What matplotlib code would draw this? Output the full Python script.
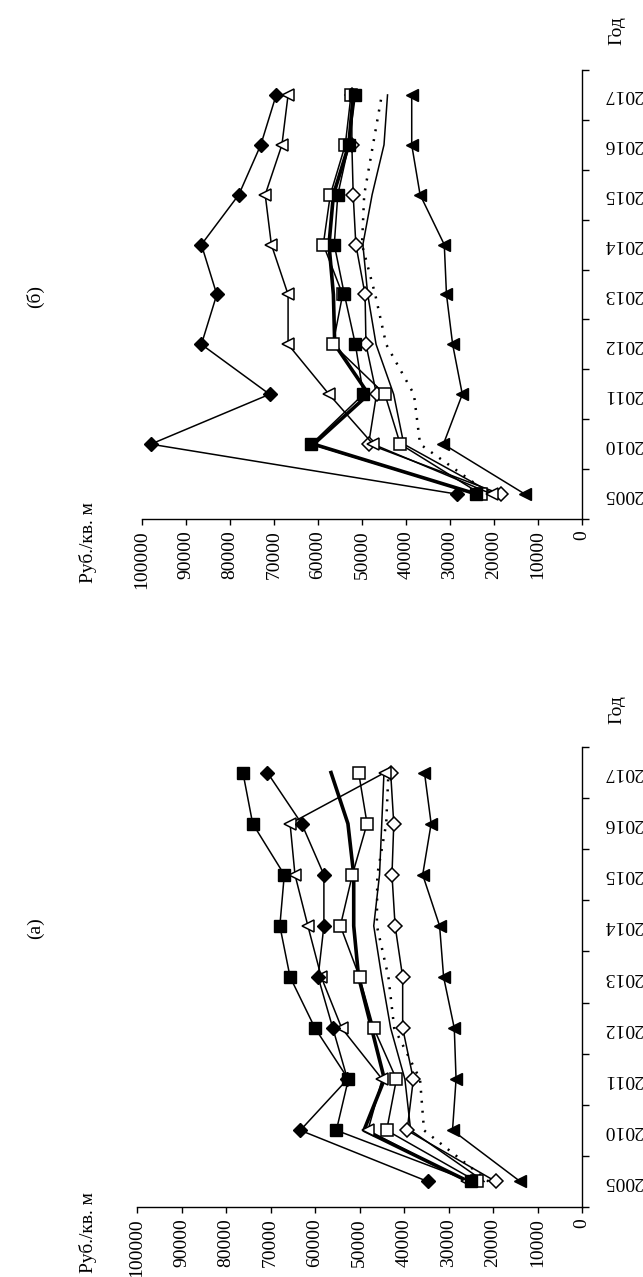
import numpy as np
import matplotlib
matplotlib.use('Agg')
import matplotlib.pyplot as plt

plt.rcParams['font.family'] = ['Liberation Serif', 'DejaVu Serif']

years = ['2005', '2010', '2011', '2012', '2013', '2014', '2015', '2016', '2017']

# панель (а)
a_fdiam = [34700, 63300, 52700, 56000, 59300, 58000, 58000, 63000, 70700]
a_fsq = [25000, 55200, 52500, 60000, 65600, 67900, 66900, 74000, 76200]
a_otri = [25900, 48100, 44900, 54000, 58600, 61600, 64500, 65600, 44300]
a_osq = [23700, 43900, 41700, 46800, 50000, 54300, 51600, 48300, 50200]
a_odiam = [19400, 39300, 37900, 40300, 40300, 42000, 42700, 42300, 43000]
a_ftri = [13900, 29100, 28300, 28700, 31100, 32000, 35800, 33900, 35400]
a_thick = [25500, 49000, 44400, 47300, 50200, 51300, 51300, 52600, 56400]
a_thin = [22000, 38500, 39800, 43000, 45000, 46800, 45500, 45000, 44500]
a_dot = [21000, 35500, 36400, 42200, 43500, 46100, 46000, 44000, 43500]

# панель (б)
b_fdiam = [28500, 98000, 71000, 86500, 83000, 86500, 78000, 73000, 69500]
b_otri = [20500, 47500, 57500, 66800, 66800, 70600, 72000, 68200, 66800]
b_ftri = [13000, 31500, 27200, 29400, 30800, 31300, 36800, 38700, 38700]
b_osq = [23000, 41300, 44800, 56600, 54400, 58800, 57200, 53800, 52500]
b_fsq = [24000, 61500, 49700, 51500, 54000, 56300, 55500, 53000, 51500]
b_odiam = [18500, 48500, 46700, 49100, 49300, 51400, 52000, 52300, 52300]
b_thick = [24000, 61000, 48500, 56200, 56500, 57500, 56500, 53000, 52000]
b_thin = [20000, 40500, 42800, 46800, 48700, 49800, 47700, 45000, 44200]
b_dot = [21000, 36800, 38200, 44500, 47000, 50000, 49500, 47500, 45500]

W, H = 643, 1277
fig = plt.figure(figsize=(W / 100, H / 100), dpi=100)
fig.patch.set_facecolor('white')


def panel(rect, fdiam, fsq, otri, osq, odiam, ftri, thick, thin, dot):
    ax = fig.add_axes(rect)
    pos = np.arange(len(years))
    lw = 1.1
    # линии без маркеров
    ax.plot(thin, pos, color='black', lw=lw)
    ax.plot(dot, pos, color='black', lw=1.8, ls=(0, (0.8, 3.2)))
    ax.plot(thick, pos, color='black', lw=2.6)
    # линии с маркерами
    ax.plot(odiam, pos, color='black', lw=lw, marker='D', ms=7,
            mfc='white', mec='black', mew=1.1)
    ax.plot(osq, pos, color='black', lw=lw, marker='s', ms=8,
            mfc='white', mec='black', mew=1.1)
    ax.plot(otri, pos, color='black', lw=lw, marker='<', ms=9,
            mfc='white', mec='black', mew=1.1)
    ax.plot(fsq, pos, color='black', lw=lw, marker='s', ms=8,
            mfc='black', mec='black')
    ax.plot(fdiam, pos, color='black', lw=lw, marker='D', ms=7,
            mfc='black', mec='black')
    ax.plot(ftri, pos, color='black', lw=lw, marker='<', ms=9,
            mfc='black', mec='black')

    ax.set_xlim(100000, 0)
    ax.set_ylim(-0.5, len(years) - 0.5)
    for s in ['top', 'left']:
        ax.spines[s].set_visible(False)
    ax.spines['bottom'].set_linewidth(1.0)
    ax.spines['right'].set_linewidth(1.0)

    ax.set_xticks(np.arange(0, 100001, 10000))
    ax.set_xticklabels([str(v) for v in range(0, 100001, 10000)],
                       rotation=90, fontsize=14)
    ax.tick_params(axis='x', direction='out', length=4, width=1, pad=4)

    ax.yaxis.tick_right()
    ax.set_yticks(pos)
    ax.set_yticklabels(years, rotation=180, fontsize=14, va='center')
    ax.set_yticks(np.arange(-0.5, len(years), 1), minor=True)
    ax.tick_params(axis='y', which='major', length=0, pad=16)
    ax.tick_params(axis='y', which='minor', direction='out', length=5, width=1)
    return ax


def fx(px):
    return px / W


def fy(py):
    return 1 - py / H


# (б) вверху, (а) внизу
panel([fx(142), fy(519), fx(440), (519 - 70) / H],
      b_fdiam, b_fsq, b_otri, b_osq, b_odiam, b_ftri, b_thick, b_thin, b_dot)
panel([fx(137), fy(1207), fx(445), (1207 - 747) / H],
      a_fdiam, a_fsq, a_otri, a_osq, a_odiam, a_ftri, a_thick, a_thin, a_dot)

fig.text(fx(35), fy(296), '(б)', rotation=90, fontsize=14, ha='center', va='center')
fig.text(fx(35), fy(928), '(а)', rotation=90, fontsize=14, ha='center', va='center')
fig.text(fx(617), fy(31), 'Год', rotation=90, fontsize=14, ha='center', va='center')
fig.text(fx(617), fy(710), 'Год', rotation=90, fontsize=14, ha='center', va='center')
fig.text(fx(88), fy(543), 'Руб./кв. м', rotation=90, fontsize=14, ha='center', va='center')
fig.text(fx(88), fy(1233), 'Руб./кв. м', rotation=90, fontsize=14, ha='center', va='center')

fig.savefig('out.png', dpi=100, facecolor='white')
